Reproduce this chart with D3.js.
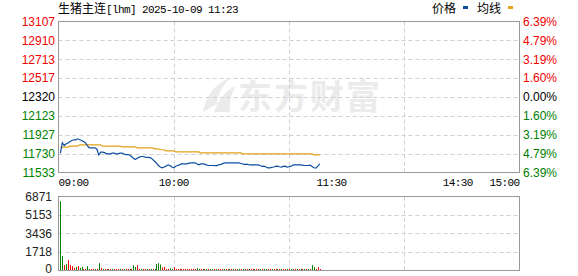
<!DOCTYPE html>
<html>
<head>
<meta charset="utf-8">
<script src="https://cdn.jsdelivr.net/npm/d3@7"></script>
<style>
body { margin: 0; background: #fff; }
svg { display: block; }
</style>
</head>
<body>
<script>
// minute index from 09:00 (axis runs 0..240, 11:30 joins 13:30)
const priceTicks = [13107, 12910, 12713, 12517, 12320, 12123, 11927, 11730, 11533]
const pctLabels = ['6.39%', '4.79%', '3.19%', '1.60%', '0.00%', '1.60%', '3.19%', '4.79%', '6.39%']
const volTicks = [6871, 5153, 3436, 1718, 0]
const timeTicks = [0, 60, 150, 210, 240]
const timeLabels = ['09:00', '10:00', '11:30', '14:30', '15:00']
const gridMinutes = [60, 120, 180]

// one value per minute, 09:01 .. 11:23 (136 points)
const price = [
    11734, 11843, 11814, 11832, 11840, 11856, 11867, 11874, 11874, 11884,
    11874, 11867, 11856, 11843, 11814, 11790, 11790, 11790, 11790, 11776,
    11717, 11745, 11745, 11740, 11728, 11728, 11728, 11734, 11734, 11728,
    11728, 11734, 11734, 11728, 11720, 11720, 11716, 11700, 11682, 11669,
    11682, 11693, 11700, 11700, 11693, 11690, 11690, 11686, 11670, 11650,
    11630, 11606, 11590, 11582, 11590, 11599, 11613, 11606, 11590, 11582,
    11599, 11606, 11613, 11623, 11623, 11623, 11623, 11630, 11634, 11634,
    11634, 11625, 11613, 11623, 11623, 11620, 11613, 11606, 11606, 11606,
    11606, 11603, 11610, 11616, 11620, 11630, 11634, 11634, 11634, 11634,
    11634, 11634, 11634, 11634, 11627, 11623, 11616, 11620, 11616, 11613,
    11613, 11613, 11613, 11613, 11606, 11596, 11599, 11590, 11582, 11582,
    11586, 11590, 11596, 11599, 11593, 11589, 11596, 11599, 11590, 11593,
    11596, 11610, 11613, 11613, 11613, 11613, 11610, 11606, 11606, 11606,
    11610, 11596, 11582, 11578, 11600, 11623
]

const avgPrice = [
    11797, 11797, 11797, 11797, 11797, 11807, 11807, 11807, 11807, 11807,
    11821, 11821, 11821, 11821, 11821, 11821, 11821, 11821, 11821, 11821,
    11821, 11821, 11807, 11807, 11807, 11807, 11807, 11807, 11807, 11807,
    11807, 11807, 11800, 11800, 11800, 11800, 11800, 11800, 11800, 11800,
    11790, 11790, 11790, 11790, 11790, 11790, 11790, 11790, 11790, 11780,
    11780, 11780, 11770, 11770, 11770, 11759, 11759, 11759, 11759, 11759,
    11748, 11748, 11748, 11748, 11748, 11748, 11748, 11748, 11748, 11748,
    11748, 11748, 11748, 11738, 11738, 11738, 11738, 11738, 11738, 11738,
    11738, 11738, 11738, 11738, 11738, 11738, 11738, 11738, 11738, 11738,
    11738, 11738, 11738, 11738, 11738, 11728, 11728, 11728, 11728, 11728,
    11728, 11728, 11728, 11728, 11728, 11728, 11728, 11728, 11728, 11728,
    11728, 11728, 11728, 11728, 11728, 11728, 11728, 11728, 11728, 11728,
    11728, 11728, 11728, 11728, 11728, 11728, 11728, 11728, 11728, 11728,
    11728, 11728, 11717, 11717, 11717, 11717
]

const volume = [
    6410, 1336, 495, 588, 962, 495, 402, 243, 336, 402,
    243, 336, 121, 121, 402, 121, 121, 150, 121, 150,
    682, 243, 121, 150, 121, 121, 150, 121, 121, 150,
    121, 150, 121, 121, 150, 121, 121, 150, 495, 336,
    495, 121, 150, 121, 121, 150, 121, 121, 150, 150,
    588, 682, 560, 280, 336, 121, 150, 217, 121, 310,
    150, 121, 150, 150, 121, 150, 150, 121, 150, 150,
    121, 217, 150, 150, 121, 150, 150, 121, 150, 150,
    150, 121, 150, 150, 121, 150, 150, 121, 150, 150,
    121, 150, 150, 150, 121, 150, 150, 121, 150, 150,
    150, 121, 150, 150, 121, 150, 150, 121, 150, 150,
    121, 150, 150, 150, 121, 150, 150, 121, 150, 150,
    150, 121, 150, 150, 121, 150, 150, 121, 150, 150,
    121, 495, 310, 121, 310, 121
]

// r = up minute, g = down minute
const volDir = (
    'ggrgrrrrgr' + 'ggrrggrrgr' + 'grgrrgrgrr' + 'rgrgrrgrgg' + 'rrgrrgrgrg' +
    'gggrrrrggr' + 'rrrrrrrrrr' + 'rggrgrgrgg' + 'rgrrrgrrgr' + 'grggrgrrgr' +
    'rgrrgrggrr' + 'grrgrgrrgr' + 'grrgrgrgrg' + 'rggrrr'
).split('')

const minutes = price.map((d, i) => i + 1)

const W = 578, H = 276
const svg = d3.select('body').append('svg')
    .attr('width', W)
    .attr('height', H)

const left = 58.5, right = 519.5
const mainTop = 21.5, mainBottom = 172.5
const volTop = 196.5, volBottom = 270.5

const x = d3.scaleLinear().domain([0, 240]).range([left, right])
const y = d3.scaleLinear().domain([11533, 13107]).range([mainBottom, mainTop])
const yv = d3.scaleLinear().domain([0, 6871]).range([volBottom, volTop])

const RED = '#f00000', GREEN = '#008000'
const gridColor = '#d0d0d0'
const monoFont = '"Liberation Mono", "DejaVu Sans Mono", monospace'
const cjkFont = '"Noto Sans CJK SC", sans-serif'
const numFont = '"Liberation Sans", Arial, sans-serif'

// watermark
const wm = svg.append('g').attr('fill', '#ebebeb')
wm.append('path')
    .attr('d', 'M203,112 C206,96 214,84 230,78 C222,86 218,94 217,104 Z M214,112 C218,100 226,90 236,86 C231,94 229,102 230,112 Z')
wm.append('text')
    .attr('x', 238)
    .attr('y', 109)
    .attr('font-family', cjkFont)
    .attr('font-weight', 'bold')
    .attr('font-size', 34)
    .attr('letter-spacing', 2)
    .text('东方财富')

// grid - main
svg.append('g').selectAll('line')
    .data(priceTicks.slice(1, -1))
    .enter().append('line')
    .attr('x1', left).attr('x2', right)
    .attr('y1', d => Math.round(y(d)) + 0.5)
    .attr('y2', d => Math.round(y(d)) + 0.5)
    .attr('stroke', gridColor)
    .attr('stroke-dasharray', '4,3')

svg.append('g').selectAll('line')
    .data(gridMinutes)
    .enter().append('line')
    .attr('x1', d => Math.round(x(d)) + 0.5)
    .attr('x2', d => Math.round(x(d)) + 0.5)
    .attr('y1', mainTop).attr('y2', mainBottom)
    .attr('stroke', gridColor)
    .attr('stroke-dasharray', '4,3')

// grid - volume
svg.append('g').selectAll('line')
    .data(volTicks.slice(1, -1))
    .enter().append('line')
    .attr('x1', left).attr('x2', right)
    .attr('y1', d => Math.round(yv(d)) + 0.5)
    .attr('y2', d => Math.round(yv(d)) + 0.5)
    .attr('stroke', gridColor)
    .attr('stroke-dasharray', '4,3')

svg.append('g').selectAll('line')
    .data(gridMinutes)
    .enter().append('line')
    .attr('x1', d => Math.round(x(d)) + 0.5)
    .attr('x2', d => Math.round(x(d)) + 0.5)
    .attr('y1', volTop).attr('y2', volBottom)
    .attr('stroke', gridColor)
    .attr('stroke-dasharray', '4,3')

// average line
svg.append('path')
    .datum(minutes)
    .attr('fill', 'none')
    .attr('stroke', '#e4a11b')
    .attr('stroke-width', 1.2)
    .attr('d', d3.line().x(m => x(m)).y((m, i) => y(avgPrice[i])))

// price line
svg.append('path')
    .datum(minutes)
    .attr('fill', 'none')
    .attr('stroke', '#0d4f9e')
    .attr('stroke-width', 1.2)
    .attr('d', d3.line().x(m => x(m)).y((m, i) => y(price[i])))

// volume bars
svg.append('g').selectAll('rect')
    .data(minutes)
    .enter().append('rect')
    .attr('x', m => Math.round(x(m)))
    .attr('width', 1)
    .attr('y', (m, i) => Math.min(yv(volume[i]), volBottom - 1.5))
    .attr('height', (m, i) => volBottom - Math.min(yv(volume[i]), volBottom - 1.5))
    .attr('fill', (m, i) => volDir[i] === 'r' ? RED : GREEN)

// frames
svg.append('rect')
    .attr('x', left).attr('y', mainTop)
    .attr('width', right - left).attr('height', mainBottom - mainTop)
    .attr('fill', 'none').attr('stroke', '#999')
svg.append('rect')
    .attr('x', left).attr('y', volTop)
    .attr('width', right - left).attr('height', volBottom - volTop)
    .attr('fill', 'none').attr('stroke', '#999')

const tickColor = i => i < 4 ? RED : (i === 4 ? '#000' : GREEN)

// left price labels
svg.append('g').selectAll('text')
    .data(priceTicks)
    .enter().append('text')
    .attr('x', 55)
    .attr('y', d => y(d))
    .attr('dy', '0.36em')
    .attr('text-anchor', 'end')
    .attr('font-family', numFont)
    .attr('font-size', 12)
    .attr('fill', (d, i) => tickColor(i))
    .text(d => d)

// right percent labels
svg.append('g').selectAll('text')
    .data(priceTicks)
    .enter().append('text')
    .attr('x', 523)
    .attr('y', d => y(d))
    .attr('dy', '0.36em')
    .attr('font-family', numFont)
    .attr('font-size', 12)
    .attr('fill', (d, i) => tickColor(i))
    .text((d, i) => pctLabels[i])

// volume labels
svg.append('g').selectAll('text')
    .data(volTicks)
    .enter().append('text')
    .attr('x', 52)
    .attr('y', d => Math.min(yv(d), 269))
    .attr('dy', '0.36em')
    .attr('text-anchor', 'end')
    .attr('font-family', numFont)
    .attr('font-size', 12)
    .attr('fill', '#222')
    .text(d => d)

// time labels
const anchors = ['start', 'middle', 'end', 'middle', 'end']
svg.append('g').selectAll('text')
    .data(timeTicks)
    .enter().append('text')
    .attr('x', (d, i) => x(d) + (i === 3 ? -4 : 0))
    .attr('y', 186)
    .attr('text-anchor', (d, i) => anchors[i])
    .attr('font-family', monoFont)
    .attr('font-size', 11)
    .attr('letter-spacing', -0.6)
    .attr('fill', '#000')
    .text((d, i) => timeLabels[i])

// title
const title = svg.append('text')
    .attr('x', 58)
    .attr('y', 13)
    .attr('fill', '#000')
title.append('tspan')
    .attr('font-family', cjkFont)
    .attr('font-size', 12)
    .text('生猪主连')
title.append('tspan')
    .attr('font-family', monoFont)
    .attr('font-size', 11)
    .attr('letter-spacing', -0.6)
    .text('[lhm] 2025-10-09 11:23')

// legend
const legend = [
    { name: '价格', color: '#0d4f9e', x: 432 },
    { name: '均线', color: '#e4a11b', x: 477 }
]
legend.forEach(l => {
    svg.append('text')
        .attr('x', l.x).attr('y', 13)
        .attr('font-family', cjkFont)
        .attr('font-size', 12)
        .attr('fill', '#000')
        .text(l.name)
    svg.append('rect')
        .attr('x', l.x + 31).attr('y', 6)
        .attr('width', 5).attr('height', 3)
        .attr('fill', l.color)
})
</script>
</body>
</html>
